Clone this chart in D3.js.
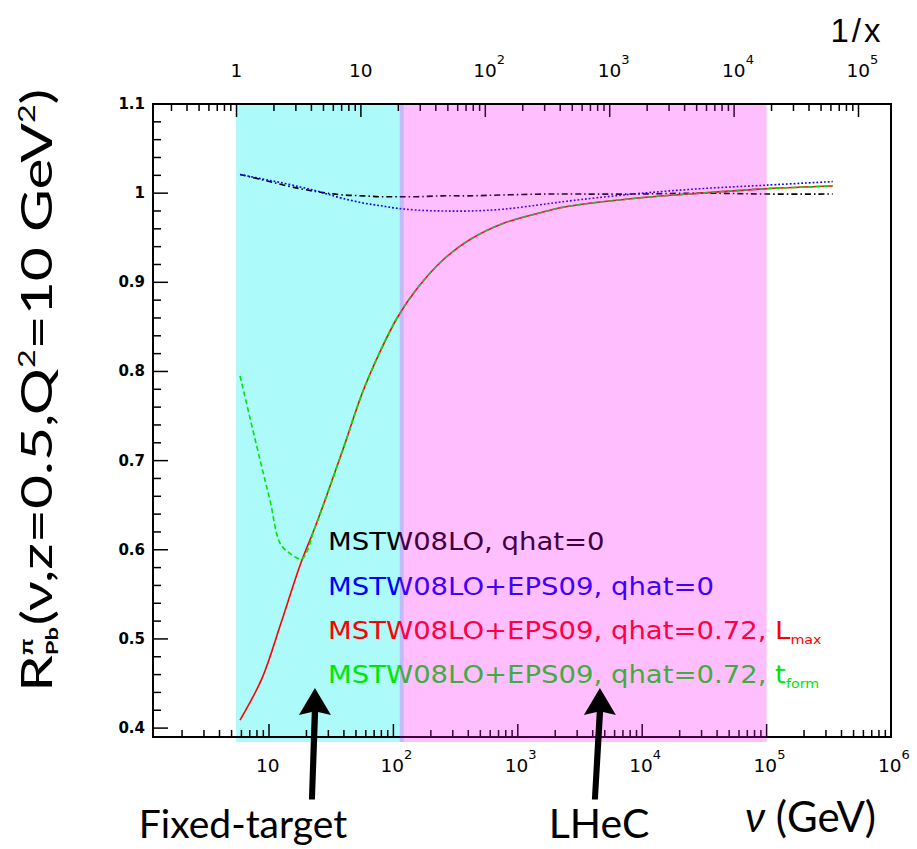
<!DOCTYPE html>
<html><head><meta charset="utf-8">
<script src="https://cdn.jsdelivr.net/npm/d3@7/dist/d3.min.js"></script>
<style>body{margin:0;background:#fff}svg{display:block}</style>
</head><body>
<script>
// ---------- data ----------
const nu      = [5.85, 8.8, 12.3, 17.8, 23.4, 29.3, 39.4, 57, 78, 107, 155, 250, 413, 760, 1720, 2490, 8440, 29200, 100000, 340000];
const rBlack  = [1.021,1.015,1.010,1.005,1.002,1.000,0.998,0.997,0.996,0.996,0.996,0.997,0.997,0.998,0.999,0.999,0.999,1.000,0.999,0.999];
const rBlue   = [1.021,1.016,1.012,1.007,1.003,0.999,0.994,0.989,0.986,0.983,0.981,0.980,0.980,0.982,0.988,0.991,0.999,1.005,1.009,1.013];
const rRed    = [0.409,0.456,0.515,0.583,0.625,0.662,0.713,0.778,0.822,0.860,0.893,0.925,0.948,0.966,0.980,0.985,0.994,1.000,1.005,1.008];
const nuGreen = [5.85, 7.0, 8.5, 10.2, 12.3, 14.7, 18.4, 23.4, 29.3, 39.4, 57, 78, 107, 155, 250, 413, 760, 1720, 2490, 8440, 29200, 100000, 340000];
const rGreen  = [0.795,0.749,0.700,0.655,0.607,0.596,0.590,0.625,0.662,0.713,0.778,0.822,0.860,0.893,0.925,0.948,0.966,0.980,0.985,0.994,1.000,1.005,1.008];

const yTicksMajor = [0.4,0.5,0.6,0.7,0.8,0.9,1,1.1];
const yTickLabels = ["0.4","0.5","0.6","0.7","0.8","0.9","1","1.1"];
const xExponents  = [1,2,3,4,5,6];          // bottom labels 10^k
const topExponents = [0,1,2,3,4,5];         // top labels 10^k for 1/x
const invXPerNu = 1/5.48;                   // 1/x = nu * invXPerNu

const bands = [
  {from: 5.44, to: 121, color: "#adfafa", over: false},
  {from: 112.5, to: 100000, color: "rgba(255,0,255,0.25)", over: true}
];
const legendItems = [
  {text: "MSTW08LO, qhat=0", sub: null, subPre: null, color: "#000000"},
  {text: "MSTW08LO+EPS09, qhat=0", sub: null, subPre: null, color: "#0000ff"},
  {text: "MSTW08LO+EPS09, qhat=0.72, ", subPre: "L", sub: "max", color: "#ff0000"},
  {text: "MSTW08LO+EPS09, qhat=0.72, ", subPre: "t", sub: "form", color: "#00e600"}
];
const arrows = [
  {nu: 23.4, label: "Fixed-target", tilt: -3},
  {nu: 4570, label: "LHeC", tilt: -5}
];
const arrowTipValue = 0.445, arrowBaseValue = 0.32;

// ---------- setup ----------
const W = 917, H = 849;
const svg = d3.select("body").append("svg").attr("width", W).attr("height", H);
const L = 153, R = 891, T = 104, B = 737;
const x = d3.scaleLog().domain([1.168, 1e6]).range([L, R]);
const xTop = d3.scaleLog().domain([1.168*invXPerNu, 1e6*invXPerNu]).range([L, R]);
const y = d3.scaleLinear().domain([0.39, 1.1]).range([B, T]);

// cyan band (behind)
bands.filter(b => !b.over).forEach(b => {
  svg.append("rect").attr("x", x(b.from)).attr("y", T-1).attr("width", x(b.to)-x(b.from))
     .attr("height", B - T + 6).attr("fill", b.color);
});

// curves
const line = (xs, ys) => d3.line().curve(d3.curveCatmullRom.alpha(0.5)).x((d,i)=>x(xs[i])).y((d,i)=>y(ys[i]))(ys);
svg.append("path").attr("d", line(nu, rBlack)).attr("fill","none").attr("stroke","#000")
   .attr("stroke-width",1.6).attr("stroke-dasharray","6,3,1.5,3");
svg.append("path").attr("d", line(nu, rBlue)).attr("fill","none").attr("stroke","#0000ff")
   .attr("stroke-width",1.6).attr("stroke-dasharray","1.8,2");
svg.append("path").attr("d", line(nu, rRed)).attr("fill","none").attr("stroke","#ff0000")
   .attr("stroke-width",1.6);
svg.append("path").attr("d", line(nuGreen, rGreen)).attr("fill","none").attr("stroke","#00e600")
   .attr("stroke-width",1.6).attr("stroke-dasharray","5,3");

// legend
const legBase = [550, 595, 639, 683];
legendItems.forEach((it, i) => {
  const g = svg.append("g").attr("transform", `translate(328,${legBase[i]}) scale(1.1,1)`);
  const t = g.append("text").attr("font-family","DejaVu Sans").attr("font-size",25).attr("fill", it.color);
  t.append("tspan").text(it.text);
  if (it.sub) {
    t.append("tspan").text(it.subPre);
    t.append("tspan").attr("font-size",13).attr("dy",5).text(it.sub);
  }
});

// frame
svg.append("rect").attr("x",L).attr("y",T).attr("width",R-L).attr("height",B-T)
   .attr("fill","none").attr("stroke","#000").attr("stroke-width",2);

// left ticks
const yMinor = d3.range(0.40, 1.1001, 0.02);
svg.append("g").selectAll("line").data(yMinor).join("line")
  .attr("x1",L).attr("x2",d => L + (Math.abs(Math.round(d*10)-d*10) < 1e-6 ? 15 : 8))
  .attr("y1",d=>y(d)).attr("y2",d=>y(d)).attr("stroke","#000").attr("stroke-width",1.5);
svg.append("g").selectAll("text").data(yTicksMajor).join("text")
  .attr("x",145).attr("y",d=>y(d)+5).attr("text-anchor","end")
  .attr("font-family","DejaVu Sans").attr("font-weight","bold").attr("font-size",15)
  .text((d,i)=>yTickLabels[i]);

// bottom ticks
const xMinor = [];
for (let e = 0; e < 6; e++) for (let k = 1; k < 10; k++) {
  const v = k*Math.pow(10,e); if (v >= 1.168 && v <= 1e6) xMinor.push({v, major: k===1});
}
xMinor.push({v:1e6, major:true});
svg.append("g").selectAll("line").data(xMinor).join("line")
  .attr("x1",d=>x(d.v)).attr("x2",d=>x(d.v)).attr("y1",B).attr("y2",d=>B-(d.major?13:7))
  .attr("stroke","#000").attr("stroke-width",1.5);
const bl = svg.append("g").attr("font-family","DejaVu Sans").attr("font-size",18.5);
xExponents.forEach(e => {
  const t = bl.append("text").attr("x", x(Math.pow(10,e)) - 13).attr("y", 772);
  t.append("tspan").text("10");
  if (e > 1) t.append("tspan").attr("font-size",13).attr("dy",-13).text(e);
});

// top ticks (1/x)
const tMinor = [];
for (let e = -1; e < 6; e++) for (let k = 1; k < 10; k++) {
  const v = k*Math.pow(10,e); if (v >= xTop.domain()[0] && v <= xTop.domain()[1]) tMinor.push({v, major:k===1});
}
svg.append("g").selectAll("line").data(tMinor).join("line")
  .attr("x1",d=>xTop(d.v)).attr("x2",d=>xTop(d.v)).attr("y1",T).attr("y2",d=>T+(d.major?13:7))
  .attr("stroke","#000").attr("stroke-width",1.5);
const tl = svg.append("g").attr("font-family","DejaVu Sans").attr("font-size",18.5);
topExponents.forEach(e => {
  const xx = xTop(Math.pow(10,e));
  if (e === 0) { tl.append("text").attr("x",xx).attr("y",77).attr("text-anchor","middle").text("1"); return; }
  const t = tl.append("text").attr("x", xx - 12).attr("y", 77);
  t.append("tspan").text("10");
  if (e > 1) t.append("tspan").attr("font-size",13).attr("dy",-13).text(e);
});
svg.append("text").attr("x",857).attr("y",42).attr("text-anchor","middle")
   .attr("font-family","Liberation Sans").attr("font-size",33).attr("letter-spacing",3).text("1/x");

// magenta band (over)
bands.filter(b => b.over).forEach(b => {
  svg.append("rect").attr("x", x(b.from)).attr("y", T+1).attr("width", x(b.to)-x(b.from))
     .attr("height", B - T + 4).attr("fill", b.color);
});

// y title
const yt = svg.append("text").attr("transform","translate(52,692) rotate(-90) scale(1.4,1)")
  .attr("font-family","Lato").attr("font-size",42).attr("fill","#000");
yt.append("tspan").text("R");
const pb = yt.append("tspan").attr("font-size",17).attr("font-weight","bold").attr("dy",6).text("Pb");
const pbW = pb.node().getComputedTextLength();
const pi = yt.append("tspan").attr("font-size",19).attr("font-weight","bold").attr("dx",-pbW).attr("dy",-25).text("π");
const piW = pi.node().getComputedTextLength();
yt.append("tspan").attr("dx", pbW - piW + 1).attr("dy",19).text("(ν,z=0.5,Q");
yt.append("tspan").attr("font-size",23).attr("dy",-17).text("2");
yt.append("tspan").attr("dy",17).text("=10 GeV");
yt.append("tspan").attr("font-size",23).attr("dy",-17).text("2");
yt.append("tspan").attr("dy",17).text(")");

// arrows + labels
arrows.forEach(a => {
  const xt = x(a.nu), yt0 = y(arrowTipValue), yb = y(arrowBaseValue);
  const hb = yt0 + 27, tilt = a.tilt;
  const p = d3.path();
  p.moveTo(xt, yt0); p.lineTo(xt+16, hb); p.lineTo(xt+3.2, hb-3); p.lineTo(xt+3+tilt, yb);
  p.lineTo(xt-3+tilt, yb); p.lineTo(xt-3.2, hb-3); p.lineTo(xt-16, hb); p.closePath();
  svg.append("path").attr("d", p.toString()).attr("fill","#000");
});
svg.append("text").attr("x",243).attr("y",838).attr("text-anchor","middle")
  .attr("font-family","Lato").attr("font-size",39).text(arrows[0].label);
svg.append("text").attr("x",599).attr("y",838).attr("text-anchor","middle")
  .attr("font-family","Lato").attr("font-size",41).text(arrows[1].label);
const xl = svg.append("text").attr("x",745).attr("y",832).attr("font-family","Lato").attr("font-size",42);
xl.append("tspan").attr("font-style","italic").text("ν");
xl.append("tspan").text(" (GeV)");
</script>
</body></html>
